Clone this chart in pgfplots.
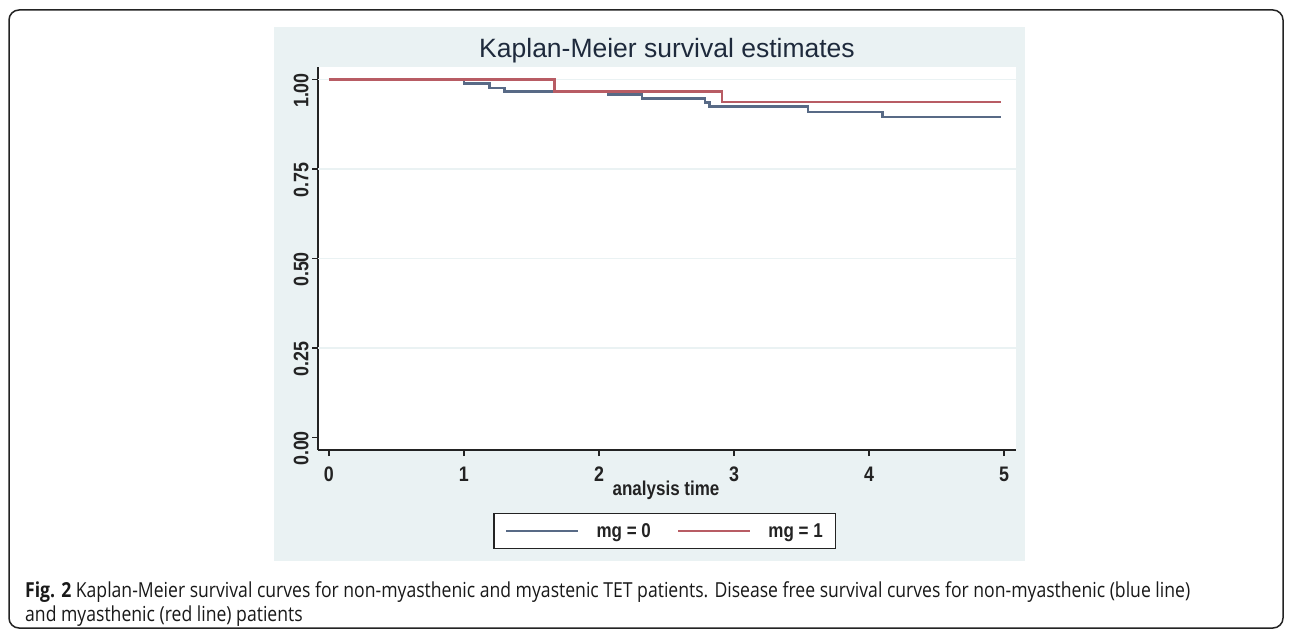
\documentclass[border=0pt]{standalone}
\usepackage{fontspec}
\usepackage{pgfplots}
\pgfplotsset{compat=1.18}
\setmainfont{Liberation Sans}
\newfontfamily\stata[FakeStretch=0.85]{Liberation Sans}
\newfontfamily\capfont[FakeStretch=0.85]{Open Sans}
\definecolor{sbg}{RGB}{234,242,243}
\definecolor{kmblue}{RGB}{88,106,134}
\definecolor{kmred}{RGB}{184,92,100}
\definecolor{ttl}{RGB}{30,42,60}
\definecolor{axc}{RGB}{35,35,35}
\begin{document}
\begin{tikzpicture}
\path[fill=white] (0pt,0pt) rectangle (1292pt,630pt);
\draw[rounded corners=10pt, line width=1.5pt, color=axc] (9pt,2pt) rectangle (1283pt,620pt);
\fill[sbg] (274pt,69pt) rectangle (1025pt,603pt);
\node[anchor=base, font=\fontsize{26.5pt}{30pt}\selectfont, text=ttl, inner sep=0pt] at (667pt,572.5pt) {Kaplan-Meier survival estimates};
\begin{axis}[
  at={(318pt,180pt)}, anchor=south west,
  scale only axis, width=698pt, height=383pt,
  xmin=-0.081, xmax=5.089, ymin=-0.035, ymax=1.035,
  axis background/.style={fill=white},
  axis x line*=bottom, axis y line*=left,
  axis line style={line width=1.6pt, color=axc, -},
  tick align=outside, major tick length=6pt,
  tick style={line width=1.3pt, color=axc},
  xtick={0,1,2,3,4,5},
  ytick={0,0.25,0.5,0.75,1},
  yticklabels={0.00,0.25,0.50,0.75,1.00},
  /pgf/number format/assume math mode=true,
  x tick label style={font=\stata\bfseries\fontsize{21pt}{24pt}\selectfont, text=axc, anchor=base, yshift=-25pt},
  y tick label style={font=\stata\bfseries\fontsize{21pt}{24pt}\selectfont, text=axc, rotate=90, anchor=south, xshift=-11pt},
  extra y ticks={0.25,0.5,0.75,1}, extra y tick labels={,,,},
  extra y tick style={grid=major, major tick length=0pt},
  grid style={color=sbg, line width=1.5pt},
  xlabel={analysis time},
  xlabel style={at={(axis description cs:0.4986,-0.120)}, anchor=base, font=\stata\bfseries\fontsize{20pt}{24pt}\selectfont, text=axc},
  legend columns=2,
  legend style={at={(axis description cs:0.497,-0.2115)}, anchor=center, draw=axc, line width=1.3pt, fill=white,
    font=\stata\bfseries\fontsize{20pt}{24pt}\selectfont, text=axc, inner xsep=11pt, inner ysep=8pt,
    /tikz/every even column/.append style={column sep=24pt},
    /tikz/every odd column/.append style={column sep=15pt}},
  legend image code/.code={\draw[#1, line width=2.5pt] (0pt,0pt) -- (72pt,0pt);},
]
\addplot[const plot, color=kmblue, line width=2.5pt] coordinates {
  (0,1) (1.00,0.989) (1.19,0.977) (1.30,0.967) (2.07,0.958) (2.32,0.947)
  (2.785,0.936) (2.82,0.924) (3.55,0.909) (4.10,0.895) (4.98,0.895)
};
\addlegendentry{mg = 0}
\addplot[const plot, color=kmred, line width=2.5pt] coordinates {
  (0,1) (1.67,0.967) (2.91,0.937) (4.98,0.937)
};
\addlegendentry{mg = 1}
\end{axis}
\node[anchor=base west, font=\capfont\fontsize{20.7pt}{24pt}\selectfont, text=black!90, inner sep=0pt] at (25pt,33pt) {{\bfseries Fig. 2} Kaplan-Meier survival curves for non-myasthenic and myastenic TET patients. Disease free survival curves for non-myasthenic (blue line)};
\node[anchor=base west, font=\capfont\fontsize{20.7pt}{24pt}\selectfont, text=black!90, inner sep=0pt] at (25pt,9pt) {and myasthenic (red line) patients};
\end{tikzpicture}
\end{document}
